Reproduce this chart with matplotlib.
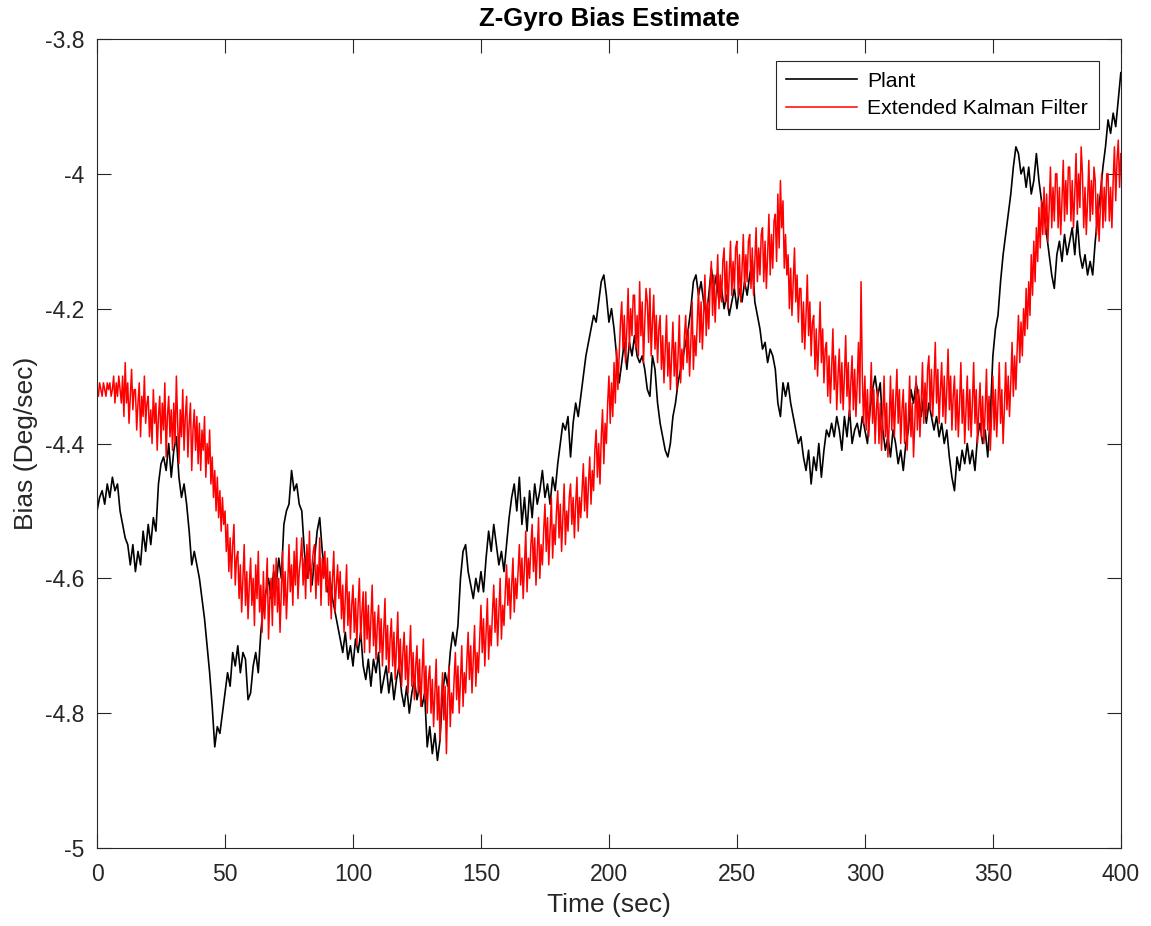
import numpy as np
import matplotlib
matplotlib.use('Agg')
import matplotlib.pyplot as plt
from matplotlib.ticker import FuncFormatter

plt.rcParams['font.family'] = ['Liberation Sans', 'DejaVu Sans']
plt.rcParams['axes.unicode_minus'] = False

# plant sampled every second, filter estimate every half second
plant_time = np.arange(0, 401)
ekf_time = np.arange(0, 801) * 0.5

# plant bias (deg/sec)
plant = [
    -4.50, -4.48, -4.47, -4.49, -4.46, -4.48, -4.45, -4.47, -4.46, -4.50,
    -4.52, -4.54, -4.55, -4.58, -4.55, -4.59, -4.56, -4.58, -4.53, -4.56,
    -4.52, -4.55, -4.51, -4.53, -4.46, -4.43, -4.42, -4.44, -4.40, -4.45,
    -4.41, -4.39, -4.45, -4.48, -4.46, -4.49, -4.53, -4.58, -4.56, -4.58,
    -4.60, -4.63, -4.66, -4.70, -4.74, -4.79, -4.85, -4.82, -4.83, -4.80,
    -4.77, -4.74, -4.76, -4.71, -4.73, -4.70, -4.74, -4.71, -4.72, -4.78,
    -4.77, -4.73, -4.71, -4.74, -4.68, -4.64, -4.62, -4.60, -4.63, -4.59,
    -4.61, -4.57, -4.60, -4.52, -4.50, -4.49, -4.44, -4.47, -4.46, -4.49,
    -4.50, -4.56, -4.60, -4.58, -4.61, -4.57, -4.53, -4.51, -4.56, -4.59,
    -4.62, -4.60, -4.63, -4.65, -4.67, -4.69, -4.71, -4.68, -4.72, -4.70,
    -4.73, -4.69, -4.71, -4.68, -4.73, -4.75, -4.72, -4.76, -4.72, -4.74,
    -4.71, -4.77, -4.75, -4.73, -4.77, -4.74, -4.78, -4.75, -4.73, -4.77,
    -4.79, -4.76, -4.80, -4.77, -4.75, -4.78, -4.76, -4.79, -4.77, -4.85,
    -4.82, -4.86, -4.83, -4.87, -4.84, -4.77, -4.74, -4.76, -4.71, -4.68,
    -4.70, -4.67, -4.60, -4.56, -4.55, -4.59, -4.61, -4.63, -4.60, -4.62,
    -4.59, -4.62, -4.57, -4.53, -4.56, -4.52, -4.55, -4.58, -4.56, -4.59,
    -4.55, -4.51, -4.48, -4.46, -4.50, -4.45, -4.52, -4.48, -4.53, -4.47,
    -4.51, -4.46, -4.49, -4.47, -4.44, -4.48, -4.46, -4.49, -4.45, -4.47,
    -4.43, -4.40, -4.37, -4.38, -4.36, -4.42, -4.37, -4.34, -4.36, -4.33,
    -4.30, -4.27, -4.25, -4.23, -4.21, -4.22, -4.19, -4.16, -4.15, -4.18,
    -4.22, -4.20, -4.23, -4.27, -4.31, -4.28, -4.25, -4.29, -4.25, -4.27,
    -4.24, -4.27, -4.28, -4.27, -4.29, -4.32, -4.33, -4.27, -4.29, -4.34,
    -4.37, -4.39, -4.41, -4.42, -4.40, -4.36, -4.34, -4.31, -4.29, -4.27,
    -4.25, -4.23, -4.20, -4.16, -4.15, -4.18, -4.16, -4.19, -4.21, -4.18,
    -4.14, -4.17, -4.15, -4.19, -4.17, -4.20, -4.18, -4.21, -4.19, -4.17,
    -4.20, -4.17, -4.19, -4.16, -4.18, -4.15, -4.13, -4.19, -4.21, -4.23,
    -4.26, -4.25, -4.28, -4.26, -4.27, -4.29, -4.34, -4.36, -4.31, -4.33,
    -4.31, -4.34, -4.36, -4.38, -4.40, -4.39, -4.42, -4.44, -4.41, -4.46,
    -4.42, -4.44, -4.40, -4.45, -4.41, -4.38, -4.39, -4.37, -4.39, -4.36,
    -4.38, -4.41, -4.36, -4.39, -4.35, -4.40, -4.38, -4.37, -4.39, -4.36,
    -4.38, -4.40, -4.35, -4.32, -4.30, -4.33, -4.31, -4.38, -4.41, -4.39,
    -4.42, -4.38, -4.40, -4.43, -4.41, -4.44, -4.40, -4.38, -4.32, -4.34,
    -4.31, -4.33, -4.36, -4.33, -4.37, -4.34, -4.36, -4.38, -4.36, -4.39,
    -4.37, -4.40, -4.38, -4.42, -4.45, -4.47, -4.42, -4.44, -4.41, -4.43,
    -4.40, -4.43, -4.41, -4.44, -4.39, -4.37, -4.40, -4.38, -4.42, -4.36,
    -4.27, -4.23, -4.21, -4.16, -4.12, -4.09, -4.06, -4.03, -3.99, -3.96,
    -3.97, -4.00, -3.99, -4.02, -3.99, -4.03, -4.01, -3.97, -4.01, -4.04,
    -4.06, -4.09, -4.12, -4.15, -4.17, -4.12, -4.10, -4.13, -4.09, -4.12,
    -4.10, -4.08, -4.12, -4.07, -4.12, -4.14, -4.12, -4.15, -4.13, -4.15,
    -4.10, -4.06, -4.03, -3.99, -3.96, -3.92, -3.94, -3.91, -3.93, -3.89,
    -3.85,
]

# EKF estimate, half-second samples (deg/sec)
ekf = [
    -4.32, -4.33, -4.31, -4.32, -4.33, -4.31, -4.32, -4.33, -4.31, -4.32,
    -4.31, -4.33, -4.32, -4.30, -4.34, -4.31, -4.33, -4.30, -4.32, -4.34,
    -4.30, -4.36, -4.28, -4.34, -4.31, -4.37, -4.33, -4.29, -4.35, -4.32,
    -4.32, -4.38, -4.34, -4.31, -4.39, -4.33, -4.36, -4.30, -4.37, -4.34,
    -4.33, -4.39, -4.35, -4.40, -4.32, -4.37, -4.34, -4.41, -4.36, -4.33,
    -4.40, -4.34, -4.38, -4.31, -4.42, -4.36, -4.33, -4.39, -4.35, -4.41,
    -4.34, -4.40, -4.30, -4.37, -4.43, -4.35, -4.39, -4.32, -4.41, -4.36,
    -4.33, -4.42, -4.37, -4.34, -4.44, -4.38, -4.35, -4.41, -4.36, -4.43,
    -4.37, -4.44, -4.38, -4.41, -4.36, -4.45, -4.40, -4.43, -4.38, -4.46,
    -4.42, -4.48, -4.44, -4.50, -4.45, -4.51, -4.47, -4.53, -4.48, -4.52,
    -4.50, -4.56, -4.52, -4.59, -4.54, -4.60, -4.55, -4.52, -4.61, -4.57,
    -4.56, -4.63, -4.58, -4.65, -4.60, -4.55, -4.64, -4.59, -4.66, -4.61,
    -4.57, -4.64, -4.60, -4.67, -4.58, -4.63, -4.56, -4.65, -4.61, -4.68,
    -4.59, -4.66, -4.62, -4.57, -4.69, -4.63, -4.60, -4.67, -4.58, -4.64,
    -4.57, -4.65, -4.60, -4.68, -4.62, -4.56, -4.64, -4.59, -4.66, -4.61,
    -4.55, -4.62, -4.58, -4.64, -4.56, -4.61, -4.54, -4.63, -4.59, -4.57,
    -4.54, -4.61, -4.57, -4.63, -4.55, -4.60, -4.53, -4.62, -4.58, -4.56,
    -4.55, -4.63, -4.58, -4.61, -4.54, -4.64, -4.57, -4.60, -4.56, -4.62,
    -4.57, -4.64, -4.59, -4.66, -4.60, -4.56, -4.65, -4.61, -4.58, -4.63,
    -4.59, -4.66, -4.61, -4.68, -4.63, -4.58, -4.67, -4.62, -4.69, -4.64,
    -4.61, -4.68, -4.63, -4.70, -4.64, -4.60, -4.69, -4.65, -4.62, -4.71,
    -4.62, -4.69, -4.64, -4.71, -4.66, -4.61, -4.70, -4.65, -4.72, -4.67,
    -4.64, -4.71, -4.66, -4.73, -4.68, -4.63, -4.72, -4.67, -4.74, -4.69,
    -4.66, -4.73, -4.68, -4.75, -4.70, -4.65, -4.74, -4.69, -4.76, -4.71,
    -4.68, -4.75, -4.70, -4.77, -4.72, -4.67, -4.76, -4.71, -4.78, -4.73,
    -4.70, -4.77, -4.72, -4.79, -4.74, -4.69, -4.78, -4.73, -4.80, -4.75,
    -4.73, -4.80, -4.75, -4.82, -4.77, -4.72, -4.81, -4.76, -4.84, -4.78,
    -4.74, -4.81, -4.76, -4.86, -4.78, -4.73, -4.82, -4.77, -4.80, -4.75,
    -4.71, -4.78, -4.73, -4.80, -4.75, -4.70, -4.79, -4.74, -4.77, -4.72,
    -4.68, -4.75, -4.70, -4.77, -4.72, -4.67, -4.76, -4.71, -4.74, -4.69,
    -4.64, -4.71, -4.66, -4.73, -4.68, -4.63, -4.72, -4.67, -4.70, -4.65,
    -4.61, -4.68, -4.63, -4.70, -4.65, -4.60, -4.69, -4.64, -4.67, -4.62,
    -4.58, -4.64, -4.60, -4.66, -4.61, -4.57, -4.65, -4.60, -4.63, -4.59,
    -4.55, -4.61, -4.57, -4.63, -4.58, -4.53, -4.62, -4.57, -4.60, -4.55,
    -4.52, -4.59, -4.54, -4.61, -4.56, -4.51, -4.60, -4.55, -4.58, -4.53,
    -4.49, -4.56, -4.51, -4.58, -4.53, -4.48, -4.57, -4.52, -4.55, -4.50,
    -4.47, -4.54, -4.49, -4.56, -4.51, -4.46, -4.55, -4.50, -4.53, -4.48,
    -4.46, -4.52, -4.48, -4.54, -4.49, -4.45, -4.53, -4.48, -4.51, -4.47,
    -4.43, -4.50, -4.45, -4.51, -4.46, -4.42, -4.49, -4.44, -4.47, -4.41,
    -4.38, -4.45, -4.40, -4.46, -4.39, -4.35, -4.43, -4.37, -4.40, -4.34,
    -4.30, -4.37, -4.31, -4.36, -4.28, -4.34, -4.26, -4.32, -4.27, -4.22,
    -4.19, -4.26, -4.21, -4.28, -4.23, -4.17, -4.26, -4.20, -4.24, -4.18,
    -4.18, -4.26, -4.21, -4.27, -4.16, -4.24, -4.19, -4.28, -4.22, -4.17,
    -4.19, -4.25, -4.17, -4.27, -4.22, -4.18, -4.26, -4.21, -4.28, -4.23,
    -4.21, -4.29, -4.24, -4.31, -4.26, -4.21, -4.30, -4.25, -4.32, -4.27,
    -4.22, -4.30, -4.25, -4.32, -4.27, -4.21, -4.31, -4.26, -4.29, -4.24,
    -4.21, -4.28, -4.23, -4.30, -4.25, -4.19, -4.29, -4.24, -4.27, -4.22,
    -4.17, -4.25, -4.19, -4.26, -4.21, -4.15, -4.24, -4.19, -4.23, -4.17,
    -4.13, -4.21, -4.15, -4.22, -4.17, -4.12, -4.20, -4.15, -4.19, -4.13,
    -4.11, -4.19, -4.13, -4.20, -4.15, -4.10, -4.18, -4.13, -4.17, -4.11,
    -4.10, -4.18, -4.12, -4.19, -4.14, -4.09, -4.17, -4.12, -4.16, -4.10,
    -4.09, -4.17, -4.11, -4.18, -4.13, -4.08, -4.16, -4.11, -4.15, -4.09,
    -4.08, -4.16, -4.10, -4.17, -4.12, -4.06, -4.15, -4.09, -4.14, -4.07,
    -4.06, -4.13, -4.03, -4.11, -4.01, -4.08, -4.04, -4.14, -4.09, -4.15,
    -4.12, -4.20, -4.14, -4.21, -4.16, -4.11, -4.19, -4.15, -4.22, -4.17,
    -4.17, -4.25, -4.19, -4.26, -4.21, -4.15, -4.24, -4.19, -4.27, -4.22,
    -4.21, -4.29, -4.23, -4.30, -4.25, -4.19, -4.28, -4.23, -4.31, -4.26,
    -4.25, -4.33, -4.27, -4.34, -4.29, -4.23, -4.32, -4.27, -4.35, -4.30,
    -4.26, -4.34, -4.28, -4.35, -4.30, -4.24, -4.33, -4.28, -4.36, -4.31,
    -4.27, -4.35, -4.29, -4.36, -4.31, -4.25, -4.34, -4.16, -4.30, -4.37,
    -4.30, -4.38, -4.32, -4.39, -4.34, -4.28, -4.37, -4.32, -4.40, -4.35,
    -4.32, -4.40, -4.34, -4.41, -4.36, -4.30, -4.39, -4.34, -4.42, -4.37,
    -4.30, -4.38, -4.32, -4.39, -4.34, -4.29, -4.37, -4.32, -4.40, -4.35,
    -4.32, -4.40, -4.34, -4.41, -4.36, -4.30, -4.39, -4.34, -4.42, -4.37,
    -4.30, -4.38, -4.32, -4.39, -4.34, -4.28, -4.37, -4.31, -4.36, -4.29,
    -4.27, -4.35, -4.29, -4.36, -4.31, -4.25, -4.34, -4.29, -4.37, -4.32,
    -4.28, -4.36, -4.30, -4.37, -4.32, -4.26, -4.35, -4.30, -4.38, -4.33,
    -4.30, -4.38, -4.32, -4.39, -4.34, -4.28, -4.37, -4.32, -4.40, -4.35,
    -4.30, -4.38, -4.32, -4.39, -4.34, -4.28, -4.37, -4.32, -4.40, -4.35,
    -4.31, -4.39, -4.33, -4.40, -4.35, -4.29, -4.38, -4.33, -4.41, -4.36,
    -4.30, -4.38, -4.32, -4.39, -4.34, -4.28, -4.37, -4.32, -4.40, -4.35,
    -4.28, -4.35, -4.30, -4.36, -4.31, -4.25, -4.33, -4.27, -4.32, -4.26,
    -4.21, -4.28, -4.22, -4.27, -4.20, -4.24, -4.17, -4.23, -4.16, -4.21,
    -4.12, -4.18, -4.10, -4.16, -4.08, -4.13, -4.05, -4.11, -4.04, -4.09,
    -4.02, -4.09, -4.03, -4.10, -4.05, -3.99, -4.08, -4.02, -4.07, -4.00,
    -4.00, -4.08, -4.02, -4.09, -4.04, -3.98, -4.07, -4.01, -4.06, -3.99,
    -3.99, -4.07, -4.01, -4.08, -4.03, -3.97, -4.06, -4.00, -4.05, -3.96,
    -4.00, -4.08, -4.02, -4.09, -4.04, -3.98, -4.07, -4.01, -4.06, -3.99,
    -4.01, -4.09, -4.03, -4.10, -4.05, -4.00, -4.08, -4.02, -4.07, -4.00,
    -4.00, -4.07, -4.02, -4.08, -4.01, -3.96, -4.04, -3.98, -3.95, -4.02,
    -3.97,
]

x_ticks = [0, 50, 100, 150, 200, 250, 300, 350, 400]
y_ticks = [-5, -4.8, -4.6, -4.4, -4.2, -4, -3.8]

fig = plt.figure(figsize=(11.51, 9.26), dpi=100)
ax = fig.add_axes([0.0843, 0.0842, 0.8895, 0.8737])

ax.plot(plant_time, plant, color='k', lw=1.2, label='Plant')
ax.plot(ekf_time, ekf, color='r', lw=1.1, label='Extended Kalman Filter')

ax.set_xlim(0, 400)
ax.set_ylim(-5, -3.8)
ax.set_xticks(x_ticks)
ax.set_yticks(y_ticks)
ax.yaxis.set_major_formatter(FuncFormatter(lambda v, p: '%g' % round(v, 2)))

ax.tick_params(direction='in', length=10, width=0.8, top=True, right=True,
               labelsize=16.5, colors='#262626')
ax.tick_params(axis='x', pad=11)
ax.tick_params(axis='y', pad=9)
for s in ax.spines.values():
    s.set_linewidth(0.8)
    s.set_color('#262626')

ax.set_xlabel('Time (sec)', fontsize=19, color='#262626', labelpad=5)
ax.set_ylabel('Bias (Deg/sec)', fontsize=19, color='#262626', labelpad=5)
ax.set_title('Z-Gyro Bias Estimate', fontsize=18.5, fontweight='bold', pad=9)

leg = ax.legend(loc='upper right', fontsize=15.3, handlelength=3.3,
                handletextpad=0.5, fancybox=False, edgecolor='#262626',
                framealpha=1, borderaxespad=1.05, borderpad=0.5,
                labelspacing=0.4)
leg.get_frame().set_linewidth(0.8)

fig.savefig('out.png', dpi=100)
